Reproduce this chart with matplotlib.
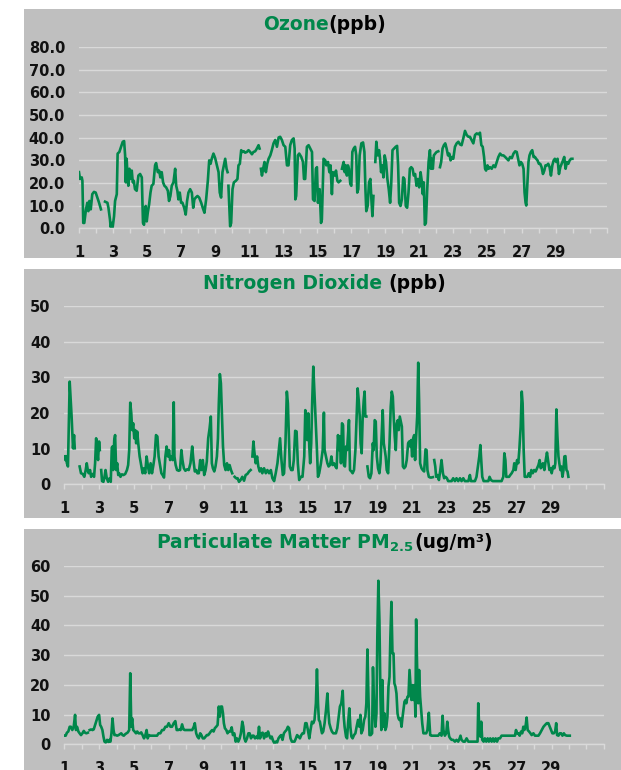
import numpy as np
import matplotlib
matplotlib.use('Agg')
import matplotlib.pyplot as plt
from matplotlib.patches import Rectangle

plt.rcParams['font.family'] = ['DejaVu Sans']
plt.rcParams['mathtext.fontset'] = 'dejavusans'

nan = np.nan

# ---- Ozone (ppb) ----
ozone_day = [1.00, 1.06, 1.16, 1.20, 1.25, 1.31, 1.41, 1.49, 1.55, 1.61, 1.69, 1.78, 1.88, 1.98, 2.08, 2.18, 2.29, 2.35,
             2.53, 2.67, 2.73, 2.82, 2.86, 2.92, 2.98, 3.06, 3.12, 3.22, 3.27, 3.37, 3.47, 3.57, 3.65, 3.71, 3.75, 3.80,
             3.86, 3.90, 3.96, 4.02, 4.10, 4.16, 4.22, 4.29, 4.39, 4.49, 4.59, 4.69, 4.76, 4.82, 4.92, 4.98, 5.04, 5.12,
             5.20, 5.27, 5.37, 5.47, 5.53, 5.63, 5.71, 5.78, 5.86, 5.94, 6.02, 6.12, 6.22, 6.29, 6.37, 6.45, 6.55, 6.65,
             6.71, 6.78, 6.84, 6.92, 7.00, 7.08, 7.18, 7.27, 7.35, 7.43, 7.53, 7.63, 7.71, 7.78, 7.86, 7.96, 8.06, 8.18,
             8.27, 8.37, 8.47, 8.57, 8.65, 8.73, 8.80, 8.90, 9.00, 9.10, 9.20, 9.27, 9.35, 9.43, 9.51, 9.59, 9.67, 9.73,
             9.76, 9.78, 9.88, 9.94, 10.02, 10.10, 10.22, 10.31, 10.37, 10.45, 10.53, 10.61, 10.69, 10.76, 10.86, 10.96,
             11.06, 11.16, 11.25, 11.35, 11.45, 11.55, 11.61, 11.65, 11.69, 11.75, 11.82, 11.90, 11.98, 12.06, 12.14,
             12.24, 12.33, 12.43, 12.53, 12.63, 12.73, 12.82, 12.92, 13.02, 13.12, 13.22, 13.31, 13.41, 13.51, 13.61,
             13.67, 13.71, 13.76, 13.86, 13.94, 14.06, 14.16, 14.22, 14.29, 14.39, 14.49, 14.59, 14.69, 14.75, 14.84,
             14.92, 14.98, 15.04, 15.14, 15.22, 15.27, 15.37, 15.47, 15.53, 15.63, 15.71, 15.78, 15.86, 15.92, 16.02,
             16.10, 16.18, 16.25, 16.35, 16.40, 16.45, 16.55, 16.61, 16.67, 16.74, 16.80, 16.86, 16.94, 17.00, 17.06,
             17.14, 17.22, 17.29, 17.35, 17.41, 17.49, 17.59, 17.69, 17.77, 17.83, 17.88, 17.96, 18.04, 18.12, 18.18,
             18.24, 18.30, 18.33, 18.41, 18.47, 18.55, 18.63, 18.69, 18.75, 18.81, 18.89, 18.96, 19.04, 19.12, 19.20,
             19.28, 19.34, 19.42, 19.51, 19.61, 19.69, 19.75, 19.81, 19.89, 19.97, 20.05, 20.12, 20.20, 20.28, 20.36,
             20.44, 20.52, 20.60, 20.67, 20.75, 20.83, 20.91, 20.99, 21.07, 21.15, 21.20, 21.26, 21.32, 21.38, 21.46,
             21.54, 21.62, 21.68, 21.73, 21.79, 21.85, 21.93, 22.01, 22.11, 22.15, 22.21, 22.28, 22.36, 22.44, 22.52,
             22.60, 22.68, 22.76, 22.83, 22.91, 22.99, 23.09, 23.19, 23.29, 23.39, 23.48, 23.58, 23.68, 23.78, 23.88,
             23.97, 24.07, 24.17, 24.27, 24.37, 24.47, 24.56, 24.64, 24.72, 24.80, 24.86, 24.92, 25.00, 25.07, 25.15,
             25.25, 25.35, 25.45, 25.55, 25.64, 25.74, 25.84, 25.94, 26.04, 26.14, 26.23, 26.33, 26.43, 26.53, 26.63,
             26.72, 26.82, 26.88, 26.96, 27.04, 27.12, 27.18, 27.24, 27.28, 27.33, 27.41, 27.47, 27.55, 27.63, 27.71,
             27.79, 27.86, 27.94, 28.02, 28.10, 28.18, 28.26, 28.34, 28.41, 28.49, 28.57, 28.65, 28.73, 28.81, 28.89,
             28.96, 29.04, 29.12, 29.20, 29.28, 29.36, 29.44, 29.51, 29.59, 29.67, 29.75, 29.83, 29.91, 29.99]
ozone_ppb = [24.8, 21.8, 22.5, 21.0, 2.4, 2.4, 8.4, 11.3, 7.6, 12.1, 8.4, 15.1, 16.1, 15.8, 13.6, 11.3, 8.4, nan,
             11.8, 11.3, 9.1, 3.9, 0.6, 2.4, 0.6, 5.4, 12.1, 15.1, 33.0, 33.7, 36.0, 38.2, 38.5, 32.2, 20.3, 30.7,
             21.8, 18.8, 26.3, 21.8, 25.5, 20.3, 21.0, 17.3, 16.6, 23.3, 24.0, 22.5, 2.4, 1.6, 9.9, 3.1, 6.9, 10.6,
             15.8, 18.8, 19.6, 27.8, 28.8, 24.8, 25.5, 22.5, 24.8, 20.3, 18.8, 18.1, 16.6, 12.1, 14.3, 18.8, 20.3, 26.3,
             18.8, 16.6, 12.8, 15.8, 11.3, 11.3, 9.1, 6.1, 12.1, 15.8, 17.3, 15.8, 9.1, 12.8, 13.6, 14.3, 13.6, 11.3,
             9.1, 6.9, 12.8, 21.0, 30.0, 28.5, 30.7, 33.0, 31.0, 27.8, 24.8, 15.8, 13.6, 24.8, 27.8, 30.7, 26.3, 24.8,
             nan, 18.8, 0.9, 2.4, 17.3, 20.3, 21.0, 21.8, 27.8, 28.5, 34.5, 33.7, 34.0, 33.4, 33.7, 34.5,
             33.7, 32.7, 33.7, 34.0, 35.2, 36.7, 35.2, nan, 26.3, 23.3, 26.3, 29.3, 24.8, 28.5, 30.7,
             32.2, 34.5, 37.5, 39.0, 36.0, 40.1, 40.4, 39.0, 36.7, 36.0, 27.8, 27.8, 36.7, 39.0, 39.7,
             35.2, 12.8, 14.3, 32.2, 33.0, 31.5, 29.3, 21.8, 21.8, 36.0, 36.7, 35.2, 33.7, 12.8, 12.1,
             26.3, 27.0, 11.3, 17.3, 2.4, 3.9, 30.7, 30.0, 27.8, 29.3, 24.8, 27.8, 15.1, 24.8, 23.3,
             25.5, 21.0, 20.3, 21.0, nan, 26.3, 29.3, 24.8, 27.8, 23.3, 27.8, 26.3, 19.6, 18.8, 33.7,
             35.2, 36.0, 32.2, 15.8, 17.3, 32.2, 37.5, 37.9, 33.7, 17.3, 7.6, 9.9, 20.3, 21.8, 12.8,
             5.4, 14.3, nan, 29.3, 38.2, 32.2, 34.5, 30.7, 24.8, 27.8, 22.5, 32.2, 29.3, 21.8, 17.3,
             11.3, 18.8, 34.5, 35.2, 36.0, 36.4, 27.8, 11.3, 9.9, 12.8, 22.5, 21.8, 9.9, 9.1, 15.8,
             26.3, 27.0, 26.3, 23.3, 24.0, 18.8, 21.8, 18.1, 24.8, 20.3, 15.1, 20.3, 1.6, 2.4, 17.3,
             29.3, 34.5, 26.3, 30.7, 26.3, 32.2, 33.0, 33.7, 34.0, nan, 27.0, 29.3, 35.2, 36.7, 37.5,
             35.2, 32.2, 33.0, 30.0, 31.5, 30.7, 36.0, 37.5, 38.2, 37.0, 36.7, 39.7, 43.0, 41.2, 40.4,
             40.4, 39.0, 37.5, 41.2, 41.9, 41.5, 42.2, 36.7, 36.0, 31.5, 26.3, 25.5, 27.8, 26.3, 27.0,
             26.3, 27.8, 27.0, 29.3, 31.5, 33.0, 32.2, 32.2, 31.5, 30.7, 30.0, 31.5, 31.0, 33.0, 34.0,
             33.7, 30.0, 27.8, 29.3, 28.5, 26.3, 15.8, 11.3, 10.1, 17.3, 29.3, 32.2, 33.7, 34.5, 31.5,
             31.5, 30.7, 30.0, 28.5, 28.5, 27.0, 24.0, 25.5, 27.8, 27.8, 28.5, 27.0, 23.3, 27.8, 30.0,
             30.7, 29.3, 30.7, 24.0, 27.0, 28.5, 30.0, 31.5, 26.3, 29.3, 28.5, 30.0, 30.7, 30.7]

# ---- Nitrogen Dioxide (ppb) ----
no2_day = [1.00, 1.06, 1.10, 1.15, 1.21, 1.27, 1.31, 1.37, 1.42, 1.46, 1.50, 1.56, 1.60, 1.70,
           1.88, 1.96, 2.06, 2.15, 2.23, 2.29, 2.35, 2.40, 2.48, 2.54, 2.62, 2.71, 2.77, 2.83, 2.88, 2.94, 3.00, 3.04,
           3.06, 3.12, 3.17, 3.25, 3.31, 3.37, 3.44, 3.52, 3.60, 3.67, 3.73, 3.77, 3.81, 3.87, 3.92, 3.98, 4.04, 4.10,
           4.15, 4.23, 4.31, 4.40, 4.50, 4.60, 4.67, 4.73, 4.79, 4.85, 4.90, 4.96, 5.02, 5.08, 5.13, 5.19, 5.25, 5.33,
           5.40, 5.50, 5.58, 5.65, 5.73, 5.81, 5.88, 5.96, 6.04, 6.12, 6.19, 6.27, 6.35, 6.42, 6.50, 6.58, 6.65, 6.73,
           6.81, 6.88, 6.96, 7.02, 7.08, 7.15, 7.23, 7.29, 7.33, 7.40, 7.48, 7.58, 7.65, 7.73, 7.79, 7.87, 7.96, 8.06,
           8.15, 8.25, 8.35, 8.42, 8.50, 8.58, 8.65, 8.73, 8.81, 8.88, 8.96, 9.04, 9.12, 9.19, 9.27, 9.35, 9.42, 9.48,
           9.54, 9.62, 9.69, 9.77, 9.83, 9.88, 9.94, 10.00, 10.06, 10.12, 10.19, 10.27, 10.35, 10.42, 10.50, 10.58,
           10.65, 10.72, 10.79, 10.87, 10.96, 11.04, 11.13, 11.23, 11.33, 11.42, 11.52, 11.62, 11.71, 11.76, 11.81,
           11.87, 11.92, 12.00, 12.08, 12.15, 12.23, 12.31, 12.38, 12.48, 12.58, 12.67, 12.77, 12.87, 12.96, 13.06,
           13.15, 13.25, 13.33, 13.40, 13.48, 13.56, 13.63, 13.71, 13.79, 13.85, 13.90, 13.96, 14.04, 14.12, 14.19,
           14.27, 14.35, 14.42, 14.50, 14.60, 14.69, 14.79, 14.85, 14.90, 14.96, 15.02, 15.08, 15.13, 15.19, 15.25,
           15.31, 15.37, 15.44, 15.52, 15.58, 15.65, 15.75, 15.85, 15.92, 15.96, 16.04, 16.12, 16.19, 16.27, 16.35,
           16.42, 16.50, 16.58, 16.65, 16.73, 16.79, 16.84, 16.90, 16.96, 17.02, 17.07, 17.13, 17.19, 17.25, 17.31,
           17.36, 17.42, 17.50, 17.57, 17.65, 17.73, 17.80, 17.86, 17.92, 17.98, 18.03, 18.09, 18.15, 18.21, 18.26,
           18.30, 18.36, 18.39, 18.42, 18.50, 18.57, 18.65, 18.73, 18.78, 18.84, 18.90, 18.96, 19.03, 19.11, 19.17,
           19.22, 19.30, 19.36, 19.42, 19.47, 19.53, 19.61, 19.69, 19.76, 19.82, 19.88, 19.93, 19.99, 20.05, 20.11,
           20.17, 20.22, 20.28, 20.34, 20.40, 20.46, 20.53, 20.61, 20.68, 20.76, 20.82, 20.88, 20.93, 20.99, 21.05,
           21.11, 21.16, 21.22, 21.28, 21.34, 21.39, 21.45, 21.53, 21.60, 21.68, 21.76, 21.82, 21.87, 21.95, 22.03,
           22.10, 22.18, 22.22, 22.26, 22.32, 22.37, 22.45, 22.53, 22.61, 22.68, 22.76, 22.83, 22.91, 22.99, 23.06,
           23.16, 23.26, 23.35, 23.45, 23.54, 23.64, 23.74, 23.83, 23.93, 24.02, 24.12, 24.22, 24.31, 24.37, 24.45,
           24.52, 24.60, 24.69, 24.77, 24.85, 24.91, 24.96, 25.02, 25.10, 25.17, 25.27, 25.37, 25.44, 25.52, 25.62,
           25.75, 25.94, 26.13, 26.23, 26.29, 26.35, 26.40, 26.48, 26.56, 26.63, 26.71, 26.81, 26.86, 26.94, 27.02,
           27.09, 27.15, 27.23, 27.29, 27.34, 27.40, 27.46, 27.54, 27.61, 27.69, 27.77, 27.84, 27.92, 28.00, 28.09,
           28.17, 28.25, 28.32, 28.38, 28.44, 28.51, 28.59, 28.67, 28.74, 28.80, 28.88, 28.96, 29.01, 29.09, 29.17,
           29.22, 29.28, 29.34, 29.40, 29.45, 29.51, 29.57, 29.63, 29.69, 29.74, 29.80, 29.86, 29.92, 29.97]
no2_ppb = [7.8, 6.8, 7.9, 5.9, 5.0, 19.0, 28.8, 23.6, 19.0, 14.3, 10.1, 13.8, 10.1, nan,
           5.0, 3.1, 2.9, 2.1, 4.0, 5.9, 4.0, 3.1, 4.0, 2.1, 2.9, 2.1, 5.9, 12.9, 9.6, 6.8, 12.0, 9.6,
           nan, 4.0, 0.9, 0.7, 2.1, 4.0, 1.7, 0.7, 1.7, 0.7, 10.3, 10.6, 4.0, 12.4, 13.8, 4.0, 5.9, 2.6,
           3.1, 2.1, 2.8, 2.6, 2.9, 4.0, 5.4, 9.6, 22.9, 19.9, 15.2, 17.1, 12.9, 15.2, 11.5, 14.8, 11.5, 7.8,
           5.9, 3.1, 4.5, 3.1, 7.8, 5.0, 3.1, 5.9, 3.1, 5.4, 7.8, 13.8, 13.4, 7.8, 5.4, 3.1, 2.6, 1.9,
           7.8, 10.6, 7.8, 9.6, 6.8, 7.8, 6.8, 23.0, 7.8, 5.4, 4.0, 3.8, 4.0, 9.6, 6.8, 4.5, 3.8, 4.2,
           4.0, 5.9, 10.6, 6.8, 3.6, 4.0, 3.1, 3.1, 6.8, 4.0, 6.8, 2.6, 4.0, 6.4, 12.9, 15.7, 19.0, 5.9,
           4.5, 3.6, 5.0, 7.8, 12.9, 22.7, 30.9, 28.3, 19.0, 10.6, 5.4, 4.0, 5.9, 4.0, 5.4, 4.0,
           3.1, nan, 2.1, 1.7, 1.7, 0.7, 1.2, 2.1, 1.0, 2.6, 2.9, 3.6, 4.0, nan, 7.8,
           12.0, 9.2, 5.9, 7.8, 5.0, 3.6, 4.5, 3.1, 4.5, 3.1, 4.0, 3.1, 4.0, 1.7, 0.9,
           3.1, 5.9, 9.6, 12.9, 6.8, 2.6, 3.1, 11.5, 26.0, 22.7, 14.3, 5.0, 4.0, 4.0, 6.8,
           15.0, 14.8, 5.9, 1.2, 2.1, 2.1, 7.8, 20.8, 19.0, 12.4, 19.9, 10.6, 5.9, 11.5, 23.6,
           33.0, 26.4, 19.0, 9.6, 2.1, 3.1, 5.9, 9.6, 20.1, 9.6, 7.8, 5.9, 5.0, 5.4, 7.8,
           5.4, 5.9, 5.0, 4.5, 13.8, 9.6, 13.4, 5.9, 17.1, 16.6, 5.4, 5.0, 10.6, 9.6, 14.3,
           18.0, 4.0, 3.6, 3.1, 4.0, 9.6, 19.0, 26.9, 23.6, 19.0, 11.5, 8.7, 19.0, 23.6, 26.0,
           19.0, 19.0, nan, 5.0, 2.1, 1.7, 3.1, 11.5, 9.6, 18.0, 17.6, 7.8, 4.5, 3.1, 5.9,
           11.5, 20.8, 11.5, 9.6, 7.8, 4.0, 3.1, 11.5, 21.8, 26.0, 24.6, 19.0, 13.4, 9.6, 17.1,
           18.0, 15.2, 19.0, 17.6, 16.2, 5.0, 4.5, 5.0, 6.8, 11.5, 12.0, 10.6, 12.4, 7.8, 12.9,
           13.8, 6.8, 13.4, 19.0, 34.1, 23.6, 5.9, 4.5, 4.0, 3.6, 9.8, 9.6, 4.0, 2.1, 1.9,
           1.9, 2.0, nan, 6.8, 5.0, 2.1, 2.6, 1.2, 4.0, 6.8, 3.1, 1.7, 2.1, 1.7, 0.9,
           0.9, 0.9, 1.7, 0.9, 1.7, 0.9, 1.7, 0.9, 1.7, 0.9, 0.9, 0.9, 2.6, 0.9, 0.9,
           0.9, 0.9, 2.1, 5.0, 7.8, 11.0, 6.8, 2.1, 0.9, 0.9, 0.9, 0.9, 2.1, 1.2, 0.9,
           0.9, 0.9, 0.9, 2.1, 8.7, 6.8, 2.1, 2.1, 2.1, 2.6, 3.1, 4.0, 5.9, 4.0, 6.8,
           5.9, 9.6, 16.2, 26.0, 22.7, 9.6, 2.1, 2.1, 2.1, 3.1, 2.1, 4.0, 3.1, 4.0, 3.6,
           4.5, 5.4, 6.8, 4.5, 5.0, 5.9, 4.0, 6.8, 8.9, 6.8, 4.0, 4.5, 3.1, 5.0, 4.5,
           5.9, 21.0, 13.4, 7.8, 5.9, 4.0, 5.0, 2.1, 4.0, 7.8, 7.9, 4.0, 3.6, 2.1]

# ---- Particulate Matter PM2.5 (ug/m3) ----
pm25_day = [1.00, 1.08, 1.15, 1.23, 1.31, 1.38, 1.46, 1.54, 1.62, 1.67, 1.73, 1.81, 1.88, 1.96, 2.04, 2.12, 2.19,
            2.27, 2.35, 2.40, 2.46, 2.54, 2.62, 2.69, 2.77, 2.85, 2.92, 3.00, 3.06, 3.12, 3.19, 3.25, 3.31, 3.38,
            3.46, 3.54, 3.60, 3.65, 3.71, 3.77, 3.83, 3.88, 3.96, 4.04, 4.12, 4.19, 4.27, 4.35, 4.42, 4.50, 4.58,
            4.65, 4.73, 4.79, 4.85, 4.90, 4.96, 5.04, 5.12, 5.19, 5.27, 5.35, 5.42, 5.50, 5.58, 5.65, 5.73, 5.79,
            5.87, 5.94, 6.04, 6.13, 6.23, 6.33, 6.42, 6.52, 6.62, 6.71, 6.81, 6.90, 7.00, 7.10, 7.19, 7.29, 7.38,
            7.46, 7.54, 7.62, 7.69, 7.77, 7.85, 7.92, 8.15, 8.35, 8.44, 8.50, 8.58, 8.65, 8.73, 8.81, 8.88, 8.96,
            9.04, 9.12, 9.19, 9.27, 9.35, 9.42, 9.50, 9.58, 9.65, 9.73, 9.81, 9.88, 9.94, 10.00, 10.06, 10.12,
            10.17, 10.23, 10.31, 10.38, 10.46, 10.54, 10.62, 10.69, 10.77, 10.85, 10.92, 11.00, 11.08, 11.15,
            11.23, 11.29, 11.35, 11.42, 11.50, 11.58, 11.65, 11.73, 11.81, 11.88, 11.96, 12.04, 12.12, 12.19,
            12.25, 12.33, 12.40, 12.48, 12.56, 12.63, 12.71, 12.77, 12.85, 12.92, 13.00, 13.08, 13.15, 13.23,
            13.31, 13.38, 13.46, 13.54, 13.62, 13.69, 13.77, 13.85, 13.92, 14.00, 14.08, 14.15, 14.23, 14.31,
            14.38, 14.46, 14.54, 14.62, 14.69, 14.77, 14.85, 14.92, 15.00, 15.08, 15.15, 15.23, 15.31, 15.38,
            15.46, 15.52, 15.58, 15.63, 15.69, 15.77, 15.81, 15.88, 15.96, 16.04, 16.12, 16.17, 16.23, 16.31,
            16.38, 16.46, 16.54, 16.61, 16.69, 16.77, 16.84, 16.92, 17.00, 17.06, 17.11, 17.19, 17.25, 17.31,
            17.38, 17.44, 17.50, 17.57, 17.65, 17.73, 17.80, 17.88, 17.96, 18.02, 18.07, 18.15, 18.23, 18.30,
            18.36, 18.42, 18.48, 18.54, 18.61, 18.69, 18.74, 18.80, 18.88, 18.94, 18.99, 19.05, 19.11, 19.17,
            19.22, 19.28, 19.34, 19.40, 19.45, 19.51, 19.57, 19.63, 19.69, 19.74, 19.80, 19.86, 19.92, 19.97,
            20.03, 20.09, 20.15, 20.21, 20.26, 20.32, 20.38, 20.43, 20.49, 20.55, 20.61, 20.66, 20.72, 20.78,
            20.84, 20.90, 20.95, 21.01, 21.07, 21.13, 21.18, 21.22, 21.28, 21.34, 21.39, 21.45, 21.51, 21.57,
            21.64, 21.72, 21.80, 21.87, 21.95, 22.03, 22.10, 22.30, 22.49, 22.58, 22.68, 22.74, 22.79, 22.87,
            22.95, 23.01, 23.06, 23.12, 23.18, 23.26, 23.35, 23.45, 23.54, 23.64, 23.72, 23.77, 23.83, 23.93,
            24.02, 24.12, 24.22, 24.41, 24.60, 24.75, 24.79, 24.85, 24.91, 24.96, 25.02, 25.10, 25.17, 25.25,
            25.33, 25.40, 25.48, 25.56, 25.64, 25.71, 25.79, 25.87, 25.94, 26.04, 26.13, 26.33, 26.52, 26.71,
            26.90, 26.96, 27.02, 27.09, 27.17, 27.25, 27.32, 27.38, 27.44, 27.52, 27.57, 27.63, 27.71, 27.79,
            27.86, 27.96, 28.05, 28.15, 28.25, 28.34, 28.44, 28.54, 28.63, 28.73, 28.82, 28.90, 28.98, 29.05,
            29.13, 29.21, 29.27, 29.32, 29.40, 29.48, 29.55, 29.63, 29.71, 29.78, 29.88, 29.97, 30.05]
pm25_ugm3 = [2.9, 2.9, 3.9, 4.3, 5.9, 5.9, 4.8, 5.9, 9.9, 4.8, 5.9, 4.3, 3.7, 3.1, 3.7, 4.5, 3.9,
             3.7, 3.9, nan, 4.8, 5.0, 4.8, 5.0, 6.5, 8.0, 9.3, 9.9, 6.5, 5.9, 4.8, 2.6, 0.9, 0.6,
             1.5, 0.8, 1.5, 0.9, 3.7, 8.7, 4.8, 3.1, 3.1, 2.9, 3.1, 3.4, 3.7, 3.1, 2.9, 3.4, 3.7,
             4.0, 4.8, 23.9, 5.9, 8.7, 4.8, 4.3, 3.7, 4.3, 3.7, 3.7, 4.0, 3.1, 2.0, 2.9, 4.8, 2.0,
             3.1, 2.9, 2.9, 2.9, 2.9, 2.9, 3.7, 3.7, 4.8, 4.8, 5.9, 5.9, 7.1, 5.9, 5.9, 7.1, 7.8,
             4.8, 4.8, 5.0, 4.8, 6.7, 5.0, 4.8, 4.8, 4.8, 5.9, 7.1, 3.7, 2.6, 2.0, 3.7, 3.1, 2.0,
             2.0, 2.6, 3.1, 3.1, 3.7, 4.3, 4.8, 4.3, 5.4, 5.9, 6.5, 12.7, 9.3, 12.7, 12.7, 10.4,
             7.1, 5.4, 4.8, 3.7, 4.3, 4.3, 5.7, 3.1, 3.7, 0.9, 2.0, 0.9, 2.0, 3.7,
             7.6, 5.9, 2.0, 0.9, 2.0, 3.7, 3.7, 2.0, 2.9, 2.9, 2.0, 2.6, 2.0, 5.9,
             2.0, 3.7, 3.9, 2.0, 3.7, 2.6, 4.3, 3.1, 2.0, 2.6, 1.2, 0.3, 0.9, 0.6,
             2.0, 2.6, 3.1, 1.5, 3.7, 4.3, 4.8, 5.9, 5.4, 2.0, 0.9, 0.9, 0.9, 2.0,
             3.1, 2.6, 2.0, 3.1, 3.7, 3.7, 7.1, 7.1, 4.8, 2.0, 4.8, 7.6, 7.1, 8.2,
             13.8, 25.2, 13.8, 8.2, 7.6, 4.8, 3.7, 4.3, 7.1, 11.5, 17.1, 11.5, 7.1, 5.4,
             4.3, 3.7, 3.7, 3.7, 5.4, 9.3, 12.7, 13.8, 18.0, 9.3, 5.9, 2.6, 2.0, 7.1,
             12.1, 5.9, 2.6, 2.0, 3.1, 3.7, 5.9, 8.2, 5.9, 9.9, 3.7, 4.8, 8.2, 9.3,
             13.8, 31.9, 16.0, 3.1, 3.1, 3.7, 25.9, 13.8, 5.9, 10.4, 36.2, 55.0, 41.8, 16.0,
             4.8, 21.6, 5.9, 10.4, 4.8, 5.9, 9.3, 19.4, 22.7, 36.2, 47.9, 30.6, 30.6, 20.5,
             19.4, 17.1, 10.4, 8.7, 8.2, 8.7, 5.9, 8.7, 11.5, 14.3, 14.9, 13.8, 16.0, 16.0,
             25.0, 19.4, 14.9, 19.9, 14.9, 19.9, 9.3, 42.0, 25.0, 13.8, 25.0, 16.0, 11.5, 7.1,
             3.7, 3.7, 3.7, 4.8, 10.6, 3.1, 2.9, 2.9, 2.9, 3.7, 2.9, 9.6, 4.8, 2.9,
             3.7, 7.6, 4.8, 2.6, 2.0, 1.5, 1.5, 0.9, 1.5, 0.9, 2.0, 2.9, 1.5, 0.9,
             0.9, 2.0, 0.9, 0.9, 0.9, 0.9, 13.8, 4.8, 2.6, 7.6, 1.5, 0.9, 2.0, 0.9,
             2.0, 0.9, 2.0, 0.9, 2.0, 0.9, 2.0, 0.9, 2.0, 2.0, 2.9, 2.9, 2.9, 2.9,
             2.9, 4.8, 3.7, 3.7, 2.9, 4.3, 3.7, 5.9, 4.8, 6.5, 9.0, 4.8, 4.3, 3.7,
             3.1, 3.7, 2.9, 2.9, 2.9, 3.7, 4.8, 5.9, 6.5, 7.1, 7.1, 5.9, 4.8, 3.7,
             3.7, 4.3, 7.1, 3.1, 2.9, 3.7, 3.7, 2.9, 3.7, 3.1, 2.9, 2.9, 2.9]

GREEN = '#00874B'
PANEL = '#BFBFBF'
GRID = '#D9D9D9'
W, H = 621, 770

fig = plt.figure(figsize=(W / 100, H / 100), dpi=100)
fig.patch.set_facecolor('white')

# gray panel backgrounds (pixel boxes: left, top, bottom)
for top, bottom in [(9, 258), (269, 518), (529, 770)]:
    fig.add_artist(Rectangle((24 / W, 1 - bottom / H), 1 - 24 / W, (bottom - top) / H,
                             transform=fig.transFigure, facecolor=PANEL, edgecolor='none', zorder=-5))


def make_axes(rect, ymax, ystep, fmt):
    ax = fig.add_axes(rect)
    ax.set_facecolor('none')
    ax.set_xlim(1, 32)
    ax.set_ylim(0, ymax)
    ax.set_yticks(np.arange(0, ymax + 0.1, ystep))
    ax.set_yticklabels([fmt % v for v in np.arange(0, ymax + 0.1, ystep)])
    ax.set_xticks(range(1, 33))
    ax.set_xticklabels([str(d) if d % 2 == 1 and d <= 29 else '' for d in range(1, 33)])
    ax.grid(axis='y', color=GRID, linewidth=1.0)
    ax.set_axisbelow(True)
    for s in ['top', 'right', 'left']:
        ax.spines[s].set_visible(False)
    ax.spines['bottom'].set_color(GRID)
    ax.spines['bottom'].set_linewidth(1.0)
    ax.tick_params(axis='x', colors=GRID, length=3.5, width=1.0, pad=8.5, labelcolor='#111111', labelsize=10.5)
    ax.tick_params(axis='y', length=0, pad=10, labelcolor='#111111', labelsize=10.5)
    for lab in ax.get_xticklabels() + ax.get_yticklabels():
        lab.set_fontweight('bold')
    return ax


ax1 = make_axes([79 / W, 1 - 228.4 / H, 527.6 / W, 181.4 / H], 80, 10, '%.1f')
ax1.plot(ozone_day, ozone_ppb, color=GREEN, linewidth=1.9, solid_joinstyle='round')

ax2 = make_axes([64.3 / W, 1 - 484.3 / H, 539.4 / W, 178.3 / H], 50, 10, '%d')
ax2.plot(no2_day, no2_ppb, color=GREEN, linewidth=1.9, solid_joinstyle='round')

ax3 = make_axes([64.3 / W, 1 - 744.3 / H, 539.4 / W, 178.4 / H], 60, 10, '%d')
ax3.plot(pm25_day, pm25_ugm3, color=GREEN, linewidth=1.9, solid_joinstyle='round')


def two_tone_title(y_px, parts, xc_px=324.5, size=13.5):
    renderer = fig.canvas.get_renderer()
    texts = []
    for s, c in parts:
        t = fig.text(0, 1 - y_px / H, s, color=c, fontsize=size, fontweight='bold', va='center', ha='left')
        texts.append(t)
    widths = [t.get_window_extent(renderer).width for t in texts]
    x = xc_px - sum(widths) / 2
    for t, w in zip(texts, widths):
        t.set_x(x / W)
        x += w


two_tone_title(25, [('Ozone', GREEN), ('(ppb)', 'black')])
two_tone_title(283.5, [('Nitrogen Dioxide ', GREEN), ('(ppb)', 'black')])
two_tone_title(543, [(r'Particulate Matter PM$_{\mathbf{2.5}}$ ', GREEN), ('(ug/m³)', 'black')])

fig.savefig('out.png', dpi=100)
